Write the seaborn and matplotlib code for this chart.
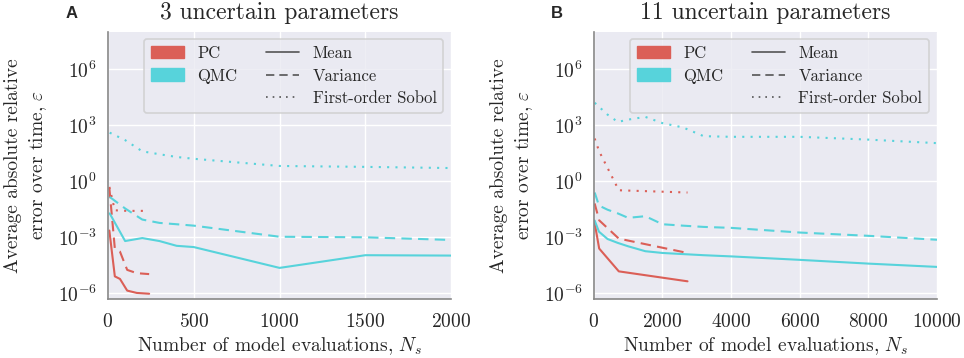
import numpy as np
import pandas as pd
import matplotlib
matplotlib.use("Agg")
import matplotlib.pyplot as plt
import seaborn as sns
from matplotlib.patches import Patch
from matplotlib.lines import Line2D
from matplotlib.ticker import LogFormatterMathtext, FixedLocator, NullLocator

# Panel A: 3 uncertain parameters
pc_n_a = [8, 40, 70, 112, 168, 240]
pc_mean_a = [2.3e-3, 8.1e-6, 5.9e-6, 1.4e-6, 1.05e-6, 9.5e-7]
pc_var_a = [4.5e-1, 2.5e-4, 1.7e-4, 1.8e-5, 1.2e-5, 1.07e-5]
pc_sobol_a = [5.0e-1, 2.8e-2, 2.7e-2, 2.6e-2, 2.6e-2, 2.6e-2]

qmc_n_a = [10, 100, 200, 300, 400, 500, 1000, 1500, 2000]
qmc_mean_a = [1.9e-2, 6.3e-4, 9.1e-4, 6.3e-4, 3.5e-4, 3.0e-4, 2.3e-5, 1.1e-4, 1.05e-4]
qmc_var_a = [1.45e-1, 3.5e-2, 8.9e-3, 5.9e-3, 5.0e-3, 4.2e-3, 1.07e-3, 1.0e-3, 7.2e-4]
qmc_sobol_a = [4.0e2, 1.6e2, 4.0e1, 2.8e1, 2.0e1, 1.6e1, 6.6, 5.9, 5.1]

# Panel B: 11 uncertain parameters
pc_n_b = [24, 156, 728, 2730]
pc_mean_b = [5.9e-3, 2.5e-4, 1.5e-5, 4.4e-6]
pc_var_b = [6.5e-2, 8.1e-3, 8.5e-4, 1.45e-4]
pc_sobol_b = [1.95e2, 4.0e1, 3.3e-1, 2.5e-1]

qmc_n_b = [25, 150, 400, 700, 1000, 1500, 2000, 2600, 3200, 4000, 6000, 8000, 10000]
qmc_mean_b = [7.9e-3, 2.0e-3, 8.1e-4, 5.0e-4, 3.3e-4, 1.8e-4, 1.45e-4, 1.26e-4,
              1.1e-4, 9.5e-5, 6.2e-5, 3.9e-5, 2.6e-5]
qmc_var_b = [2.5e-1, 5.0e-2, 3.0e-2, 1.9e-2, 1.1e-2, 1.35e-2, 5.0e-3, 4.2e-3,
             3.6e-3, 3.2e-3, 1.8e-3, 1.2e-3, 7.4e-4]
qmc_sobol_b = [1.6e4, 9.8e3, 3.7e3, 1.5e3, 2.0e3, 2.8e3, 1.3e3, 7.6e2,
               2.6e2, 2.4e2, 2.4e2, 1.7e2, 1.1e2]

panel_titles = ["3 uncertain parameters", "11 uncertain parameters"]
panel_letters = ["A", "B"]
xticks_a = [0, 500, 1000, 1500, 2000]
xticks_b = [0, 2000, 4000, 6000, 8000, 10000]
yticks = [1e-6, 1e-3, 1e0, 1e3, 1e6]

sns.set_theme(style="darkgrid")
plt.rcParams['font.family'] = ['cmr10', 'DejaVu Serif']
plt.rcParams['mathtext.fontset'] = 'cm'
plt.rcParams['axes.formatter.use_mathtext'] = True

pal = sns.color_palette("hls", 6)
pc_color = pal[0]
qmc_color = pal[3]


def make_rows(n, mean, var, sobol, method):
    rows = []
    for stat, vals in [("Mean", mean), ("Variance", var), ("First-order Sobol", sobol)]:
        for x, v in zip(n, vals):
            rows.append({"n": x, "err": v, "stat": stat, "method": method})
    return rows


df_a = pd.DataFrame(make_rows(pc_n_a, pc_mean_a, pc_var_a, pc_sobol_a, "PC")
                    + make_rows(qmc_n_a, qmc_mean_a, qmc_var_a, qmc_sobol_a, "QMC"))
df_b = pd.DataFrame(make_rows(pc_n_b, pc_mean_b, pc_var_b, pc_sobol_b, "PC")
                    + make_rows(qmc_n_b, qmc_mean_b, qmc_var_b, qmc_sobol_b, "QMC"))

fig = plt.figure(figsize=(9.64, 3.58), dpi=100)
ax_a = fig.add_axes([0.112, 0.165, 0.356, 0.746])
ax_b = fig.add_axes([0.616, 0.165, 0.356, 0.746])

ls_map = {"Mean": "-", "Variance": (0, (5, 3)), "First-order Sobol": (0, (1, 3))}

for ax, df, title, letter, xt, xmax in [
        (ax_a, df_a, panel_titles[0], panel_letters[0], xticks_a, 2000),
        (ax_b, df_b, panel_titles[1], panel_letters[1], xticks_b, 10000)]:
    for (method, stat), sub in df.groupby(["method", "stat"]):
        color = pc_color if method == "PC" else qmc_color
        sns.lineplot(data=sub, x="n", y="err", ax=ax, color=color,
                     linestyle=ls_map[stat], linewidth=1.5, legend=False)
    ax.set_yscale("log")
    ax.set_ylim(10 ** -6.3, 10 ** 8)
    ax.set_xlim(0, xmax)
    ax.yaxis.set_major_locator(FixedLocator(yticks))
    ax.yaxis.set_major_formatter(LogFormatterMathtext())
    ax.yaxis.set_minor_locator(NullLocator())
    ax.set_xticks(xt)
    ax.tick_params(labelsize=14, length=5, color="#888888", width=1.2, pad=3)
    ax.tick_params(axis="x", labelsize=14, pad=5)
    for side in ["top", "right"]:
        ax.spines[side].set_visible(False)
    for side in ["left", "bottom"]:
        ax.spines[side].set_visible(True)
        ax.spines[side].set_color("#888888")
        ax.spines[side].set_linewidth(1.2)
    ax.set_xlabel("Number of model evaluations, $N_s$", fontsize=14, labelpad=3)
    ax.set_ylabel("Average absolute relative\nerror over time, $\\varepsilon$",
                  fontsize=14, labelpad=6, linespacing=1.35)
    ax.set_title(title, fontsize=17, pad=9)
    ax.text(-0.09, 1.095, letter, transform=ax.transAxes, fontsize=12,
            fontweight="bold", family="Liberation Sans", va="top", ha="right")

    handles = [Patch(facecolor=pc_color, edgecolor=pc_color),
               Patch(facecolor=qmc_color, edgecolor=qmc_color),
               Line2D([], [], color="none"),
               Line2D([], [], color="#555555", linestyle=ls_map["Mean"], lw=1.2),
               Line2D([], [], color="#555555", linestyle=ls_map["Variance"], lw=1.2),
               Line2D([], [], color="#555555", linestyle=ls_map["First-order Sobol"], lw=1.2)]
    labels = ["PC", "QMC", "", "Mean", "Variance", "First-order Sobol"]
    leg = ax.legend(handles, labels, ncol=2, loc="upper right",
                    bbox_to_anchor=(0.977, 0.974), borderaxespad=0,
                    fontsize=12, frameon=True,
                    handlelength=2.0, handleheight=0.8, columnspacing=1.7,
                    handletextpad=0.8, borderpad=0.4, labelspacing=0.45)
    leg.get_frame().set_facecolor("#EAEAF2")
    leg.get_frame().set_edgecolor("#cccccc")
    leg.get_frame().set_linewidth(1.2)

fig.savefig("out.png", dpi=100)
